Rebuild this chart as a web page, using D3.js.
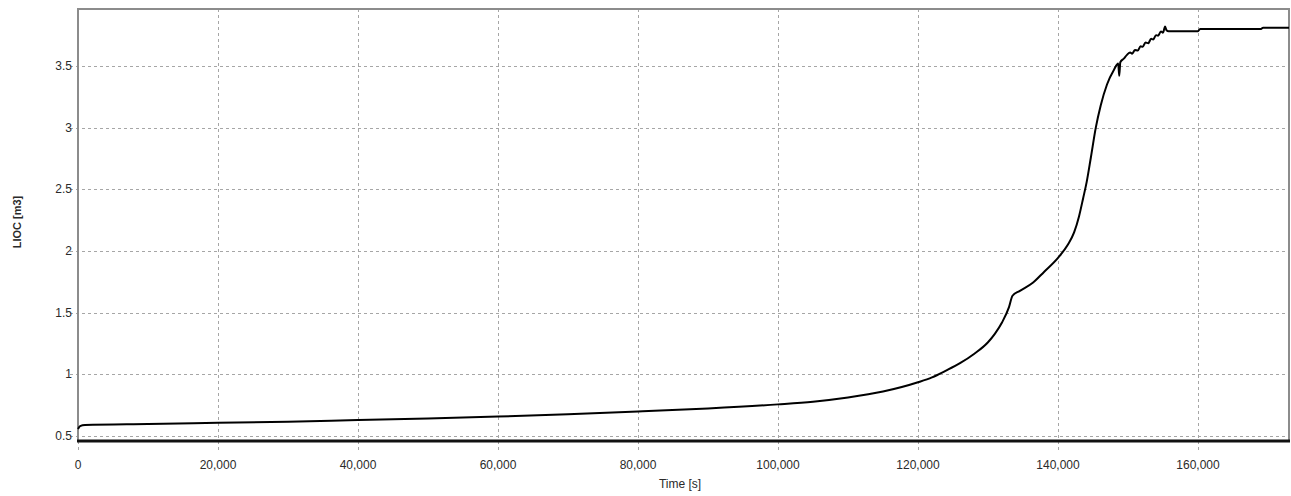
<!DOCTYPE html>
<html>
<head>
<meta charset="utf-8">
<script src="https://cdn.jsdelivr.net/npm/d3@7"></script>
<style>
  html, body { margin: 0; padding: 0; background: #fff; }
  svg { display: block; }
  .lbl { font-family: "Liberation Sans Narrow", "Arial Narrow", "Liberation Sans", sans-serif; }
</style>
</head>
<body>
<svg id="chart" width="1291" height="496"></svg>
<script>
// ---- data ----
const timeS = [0, 300, 1000, 10000, 20000, 30000, 40000, 50000, 60000, 70000, 80000, 90000, 100000,
  105000, 110000, 115000, 120000, 122000, 124000, 126000, 128000, 130000, 131000, 132000, 133000, 133500,
  134500, 136400, 138000, 140000, 141400, 142300, 143000, 143600, 144100, 144700, 145400, 146100,
  147000, 148000, 148600, 148750, 148900, 149400, 149850, 150300, 150600, 151000, 151400, 151800,
  152100, 152500, 152900, 153300, 153600, 154000, 154300, 154700, 155000, 155300, 155500, 155800,
  160000, 160300, 169000, 169300, 173000];
const lioc = [0.556, 0.58, 0.589, 0.597, 0.606, 0.616, 0.629, 0.642, 0.657, 0.676, 0.698, 0.723, 0.756,
  0.778, 0.812, 0.86, 0.935, 0.975, 1.03, 1.09, 1.165, 1.26, 1.33, 1.42, 1.545, 1.637,
  1.675, 1.742, 1.83, 1.944, 2.05, 2.15, 2.28, 2.43, 2.56, 2.76, 3.00, 3.18,
  3.35, 3.47, 3.52, 3.42, 3.53, 3.56, 3.59, 3.61, 3.60, 3.63, 3.625, 3.66,
  3.655, 3.69, 3.685, 3.72, 3.715, 3.75, 3.745, 3.78, 3.77, 3.82, 3.79, 3.782,
  3.782, 3.80, 3.80, 3.81, 3.81];
const xTicks = [0, 20000, 40000, 60000, 80000, 100000, 120000, 140000, 160000];
const yTicks = [0.5, 1, 1.5, 2, 2.5, 3, 3.5];
const xTitle = "Time [s]";
const yTitle = "LIOC [m3]";

// ---- layout ----
const svg = d3.select("#chart");
const L = 78, R = 1289, T = 9, B = 441;
const x = d3.scaleLinear().domain([0, 173000]).range([L, R]);
const y = d3.scaleLinear().domain([0.459, 3.962]).range([B, T]);

// grid
const grid = svg.append("g").attr("stroke", "#a6a6a6").attr("stroke-width", 1).attr("stroke-dasharray", "3,3");
grid.selectAll("line.v").data(xTicks).join("line")
  .attr("x1", d => Math.round(x(d)) + 0.5).attr("x2", d => Math.round(x(d)) + 0.5)
  .attr("y1", T).attr("y2", B + 12);
grid.selectAll("line.h").data(yTicks).join("line")
  .attr("y1", d => Math.round(y(d)) + 0.5).attr("y2", d => Math.round(y(d)) + 0.5)
  .attr("x1", L - 8).attr("x2", R);

// frame
svg.append("rect").attr("x", L).attr("y", T).attr("width", R - L).attr("height", B - T)
  .attr("fill", "none").attr("stroke", "#8c8c8c").attr("stroke-width", 2);
svg.append("line").attr("x1", L - 1).attr("x2", R + 1).attr("y1", B).attr("y2", B)
  .attr("stroke", "#111").attr("stroke-width", 3);

// curve
const pts = timeS.map((t, i) => [t, lioc[i]]);
svg.append("path").datum(pts)
  .attr("fill", "none").attr("stroke", "#000").attr("stroke-width", 2).attr("stroke-linejoin", "round")
  .attr("d", d3.line().curve(d3.curveMonotoneX).x(d => x(d[0])).y(d => y(d[1])));

// tick labels
const fmt = d3.format(",");
svg.append("g").selectAll("text").data(xTicks).join("text")
  .attr("class", "lbl").attr("x", d => x(d)).attr("y", 469)
  .attr("text-anchor", "middle").attr("font-size", 12).attr("fill", "#2a2a2a")
  .text(d => fmt(d));
svg.append("g").selectAll("text").data(yTicks).join("text")
  .attr("class", "lbl").attr("x", 72).attr("y", d => y(d) + 4)
  .attr("text-anchor", "end").attr("font-size", 12).attr("fill", "#2a2a2a")
  .text(d => d);

// titles
svg.append("text").attr("class", "lbl").attr("x", 680).attr("y", 488)
  .attr("text-anchor", "middle").attr("font-size", 12).attr("fill", "#2a2a2a").text(xTitle);
svg.append("text").attr("transform", "translate(21,222) rotate(-90)")
  .attr("text-anchor", "middle").attr("font-family", "Liberation Sans, Arial, sans-serif")
  .attr("font-weight", "bold").attr("font-size", 11).attr("fill", "#2a2a2a").text(yTitle);
</script>
</body>
</html>
